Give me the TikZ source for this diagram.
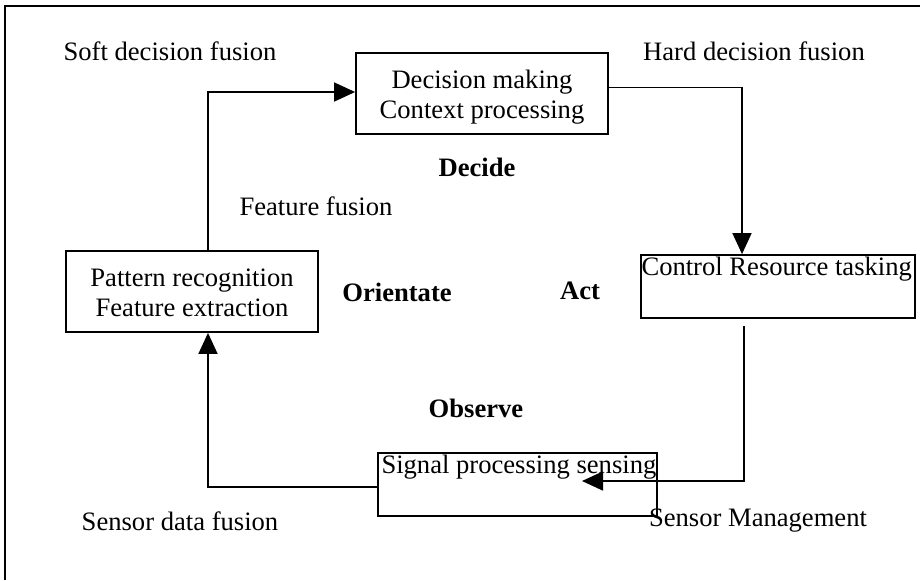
\documentclass[tikz,border=0pt]{standalone}
\usepackage{fontspec}
\setmainfont{Liberation Serif}
\usetikzlibrary{arrows.meta,calc}
\begin{document}
\begin{tikzpicture}[x=0.5pt,y=-0.5pt,
  every node/.style={font=\fontsize{13.3}{16}\selectfont},
  box/.style={draw,line width=0.9pt,rectangle,inner sep=0pt,align=center},
  lbl/.style={inner sep=0pt},
  bold/.style={inner sep=0pt,font=\fontsize{13.3}{16}\selectfont\bfseries},
  arr/.style={line width=0.8pt,-{Triangle[length=10.5pt,width=9.5pt]}}]
\useasboundingbox (0,0) rectangle (920,580);
\draw[line width=1.2pt] (5,580) -- (5,6) -- (920,6);
% boxes
\node[box,minimum width=126pt,minimum height=40.5pt,
  label={[lbl,align=center,yshift=-2pt]center:Decision making\\[-1pt]Context processing}] (dec) at (482,93.5) {};
\node[box,minimum width=126pt,minimum height=40.5pt,
  label={[lbl,align=center,yshift=-0.5pt]center:Pattern recognition\\[-1pt]Feature extraction}] (pat) at (192,291.5) {};
\node[box,minimum width=137pt,minimum height=31.5pt,
  label={[lbl,anchor=north west,xshift=0.5pt,yshift=-1.5pt]north west:Control Resource tasking}] (ctl) at (778,286.5) {};
\node[box,minimum width=139.5pt,minimum height=31.5pt,
  label={[lbl,anchor=north west,xshift=2pt,yshift=-1.5pt]north west:Signal processing sensing}] (sig) at (517.5,484.5) {};
% labels
\node[lbl] (soft) at (170,51) {Soft decision fusion};
\node[lbl] (hard) at (754,51) {Hard decision fusion};
\node[bold] (decide) at (477,167) {Decide};
\node[lbl] (ff) at (316,206) {Feature fusion};
\node[bold] (orient) at (397,292) {Orientate};
\node[bold] (act) at (580,291) {Act};
\node[bold] (obs) at (476,408) {Observe};
\node[lbl] (sdf) at (180,521) {Sensor data fusion};
\node[lbl] (sm) at (758,521) {Sensor Management};
% connectors
\coordinate (sigin) at (582,481);
\draw[arr] ($(pat.north)+(16,0)$) |- ($(dec.west)+(0,-1.5)$);
\draw[arr] ($(dec.east)+(0,-6)$) -| ($(ctl.north)+(-36,0)$);
\draw[arr] ($(ctl.south)+(-34,7)$) |- (sigin);
\draw[arr] ($(sig.west)+(0,2.5)$) -| ($(pat.south)+(16,0)$);
\end{tikzpicture}
\end{document}
